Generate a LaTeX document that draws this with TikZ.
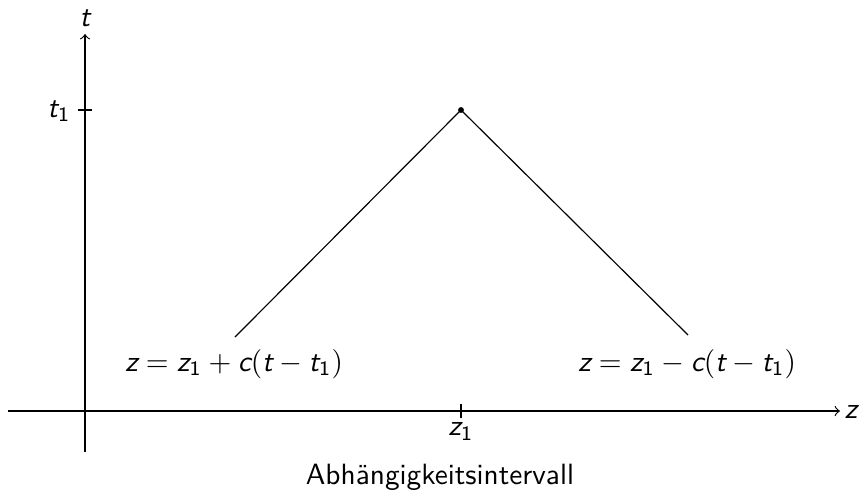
\documentclass[tikz,border=0pt]{standalone}
\usepackage{amsmath}
\newcommand{\mv}[1]{\text{\sffamily\itshape #1}}
\newcommand{\nm}[1]{\text{\sffamily #1}}
\begin{document}
\begin{tikzpicture}[x=0.012cm,y=-0.012cm,
  every node/.style={font=\sffamily, inner sep=0pt},
  axis/.style={->, line width=0.4pt},
  curve/.style={line width=0.4pt}]
\useasboundingbox (0,0) rectangle (866,494);
% axes
\coordinate (xs) at (8,411);
\coordinate (xe) at (840,411);
\coordinate (ys) at (85,452);
\coordinate (ye) at (85,34);
\draw[axis] (xs) -- (xe);
\draw[axis] (ys) -- (ye);
\node[anchor=west] (zl) at (844,412) {$\mv{z}$};
\node[anchor=south] (tl) at (85,27) {$\mv{t}$};
% ticks
\coordinate (t1a) at (78,110); \coordinate (t1b) at (92,110);
\draw (t1a) -- (t1b);
\node[anchor=east] (t1l) at (71,111) {$\mv{t}_{\nm{1}}$};
\coordinate (z1a) at (461,404); \coordinate (z1b) at (461,418);
\draw (z1a) -- (z1b);
\node[anchor=north] (z1l) at (461,422) {$\mv{z}_{\nm{1}}$};
% characteristic lines
\coordinate (apex) at (461,110);
\coordinate (L) at (235,337);
\coordinate (R) at (688,335);
\draw[curve] (L) -- (apex) -- (R);
\fill (apex) circle (1pt);
\node (eqL) at (234,364) {$\mv{z} = \mv{z}_{\nm{1}} + \mv{c}(\mv{t} - \mv{t}_{\nm{1}})$};
\node (eqR) at (687,364) {$\mv{z} = \mv{z}_{\nm{1}} - \mv{c}(\mv{t} - \mv{t}_{\nm{1}})$};
\node (cap) at (440,477) {Abhängigkeitsintervall};
\end{tikzpicture}
\end{document}
